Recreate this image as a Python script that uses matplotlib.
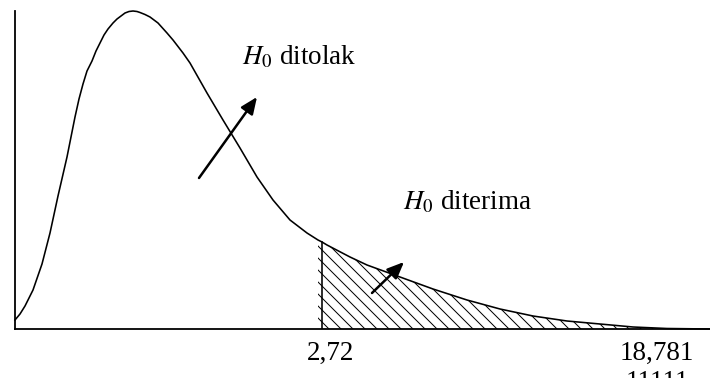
import matplotlib
matplotlib.use("Agg")
import matplotlib.pyplot as plt

plt.rcParams['font.family'] = ['Liberation Serif', 'DejaVu Serif']
plt.rcParams['mathtext.fontset'] = 'stix'
plt.rcParams['hatch.linewidth'] = 1.0

# density curve (x along the axis, height above it)
curve_x = [0, 5, 10, 18, 27, 35, 43, 52, 60, 64, 68, 72, 77, 81, 85, 89, 93,
           98, 102, 106, 110, 114, 118, 122, 125, 130, 135, 143, 152, 158,
           168, 175, 192, 208, 225, 242, 258, 275, 292, 303, 307, 312, 335,
           352, 385, 418, 452, 485, 518, 552, 585, 618, 652, 695]
curve_y = [9, 15, 23, 39, 65, 96, 133, 172, 212, 230, 245, 258, 268, 278,
           286, 294, 300, 306, 310, 313, 316, 317.5, 318, 317.5, 316.5, 314.5,
           312, 306, 296, 289, 276, 266, 236, 209, 181, 152, 129, 109, 96, 89,
           87, 84, 72, 64, 52, 40, 29, 20, 13, 8, 5, 2, 0.5, 0]

crit_x = 307      # position of 2,72
crit_h = 87
tick_labels = ['2,72', '18,781']
tick_pos = [316, 642]

fig = plt.figure(figsize=(710 / 72, 378 / 72), dpi=72)
ax = fig.add_axes([15 / 710, 49 / 378, 695 / 710, 318 / 378])
ax.set_xlim(0, 695)
ax.set_ylim(0, 318)

ax.plot(curve_x, curve_y, color='black', lw=1.6, clip_on=False,
        solid_joinstyle='round')

# hatched tail
tail_x = [x for x in curve_x if x >= 303]
tail_y = curve_y[len(curve_x) - len(tail_x):]
ax.fill_between(tail_x, 0, tail_y, facecolor='none', edgecolor='black',
                hatch='\\\\', linewidth=0)
ax.plot([crit_x, crit_x], [0, crit_h], color='black', lw=1.6)

for s in ['top', 'right']:
    ax.spines[s].set_visible(False)
for s in ['left', 'bottom']:
    ax.spines[s].set_linewidth(1.8)
ax.set_xticks([])
ax.set_yticks([])

for lab, pos in zip(tick_labels, tick_pos):
    ax.text(pos, -24, lab, fontsize=27, ha='center', va='center', clip_on=False)
ax.text(642, -41, '11111', fontsize=27, ha='center', va='top', clip_on=False)

ax.text(227, 272, '$H_0$ ditolak', fontsize=27, ha='left', va='center')
ax.text(388, 127, '$H_0$ diterima', fontsize=27, ha='left', va='center')

arrow = dict(arrowstyle='-|>,head_length=0.7,head_width=0.3',
             color='black', lw=2.5, mutation_scale=20, shrinkA=0, shrinkB=0)
ax.annotate('', xy=(242, 232), xytext=(184, 151), arrowprops=arrow)
ax.annotate('', xy=(389, 67), xytext=(357, 36), arrowprops=arrow)

fig.savefig('out.png', dpi=72)
